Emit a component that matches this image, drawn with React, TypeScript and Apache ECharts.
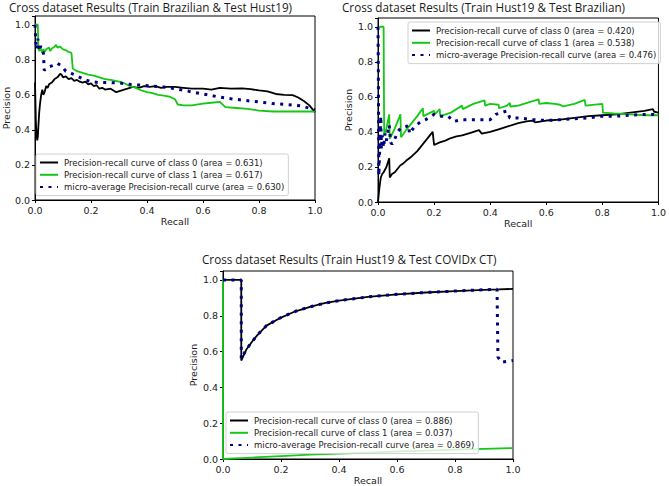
import React, { useEffect, useRef } from 'react';
import * as echarts from 'echarts';

// ---------- Data ----------
const titles = [
  'Cross dataset Results (Train Brazilian & Test Hust19)',
  'Cross dataset Results (Train Hust19 & Test Brazilian)',
  'Cross dataset Results (Train Hust19 & Test COVIDx CT)',
];
const axisTicks = [0, 0.2, 0.4, 0.6, 0.8, 1.0];

const names1 = [
  'Precision-recall curve of class 0 (area = 0.631)',
  'Precision-recall curve of class 1 (area = 0.617)',
  'micro-average Precision-recall curve (area = 0.630)',
];
const names2 = [
  'Precision-recall curve of class 0 (area = 0.420)',
  'Precision-recall curve of class 1 (area = 0.538)',
  'micro-average Precision-recall curve (area = 0.476)',
];
const names3 = [
  'Precision-recall curve of class 0 (area = 0.886)',
  'Precision-recall curve of class 1 (area = 0.037)',
  'micro-average Precision-recall curve (area = 0.869)',
];

// Chart 1: Train Brazilian & Test Hust19  [recall, precision]
const c1Class0 = [
  [0, 0.67], [0.003, 0.45], [0.005, 0.38], [0.008, 0.34], [0.01, 0.36], [0.012, 0.42], [0.015, 0.5],
  [0.018, 0.55], [0.022, 0.6], [0.026, 0.63], [0.03, 0.6], [0.035, 0.62], [0.04, 0.65], [0.045, 0.64],
  [0.05, 0.66], [0.06, 0.67], [0.07, 0.69], [0.08, 0.7], [0.09, 0.72], [0.095, 0.715], [0.1, 0.7],
  [0.11, 0.705], [0.12, 0.69], [0.13, 0.695], [0.14, 0.68], [0.15, 0.685], [0.16, 0.675], [0.17, 0.67],
  [0.18, 0.675], [0.19, 0.66], [0.2, 0.665], [0.21, 0.65], [0.22, 0.655], [0.23, 0.635], [0.24, 0.64],
  [0.25, 0.63], [0.27, 0.635], [0.29, 0.615], [0.31, 0.625], [0.33, 0.635], [0.35, 0.645], [0.37, 0.64],
  [0.39, 0.65], [0.41, 0.645], [0.43, 0.65], [0.45, 0.64], [0.47, 0.645], [0.5, 0.645], [0.53, 0.64],
  [0.56, 0.635], [0.6, 0.635], [0.63, 0.63], [0.66, 0.64], [0.7, 0.635], [0.74, 0.637], [0.77, 0.633],
  [0.8, 0.625], [0.83, 0.62], [0.86, 0.605], [0.89, 0.6], [0.92, 0.598], [0.94, 0.585], [0.96, 0.565],
  [0.98, 0.54], [0.99, 0.52], [1.0, 0.5],
];
const c1Class1 = [
  [0, 1.0], [0.01, 1.0], [0.012, 0.87], [0.015, 0.85], [0.02, 0.87], [0.025, 0.84], [0.03, 0.86],
  [0.035, 0.845], [0.04, 0.86], [0.05, 0.87], [0.055, 0.85], [0.06, 0.865], [0.07, 0.875], [0.075, 0.885],
  [0.08, 0.87], [0.09, 0.875], [0.1, 0.86], [0.11, 0.855], [0.12, 0.845], [0.13, 0.84], [0.135, 0.75],
  [0.14, 0.745], [0.15, 0.735], [0.17, 0.725], [0.19, 0.715], [0.21, 0.71], [0.23, 0.7], [0.25, 0.69],
  [0.27, 0.685], [0.3, 0.675], [0.32, 0.665], [0.34, 0.65], [0.36, 0.64], [0.38, 0.625], [0.4, 0.615],
  [0.42, 0.61], [0.44, 0.6], [0.46, 0.595], [0.48, 0.59], [0.5, 0.575], [0.51, 0.545], [0.53, 0.54],
  [0.56, 0.54], [0.6, 0.55], [0.63, 0.555], [0.66, 0.56], [0.68, 0.53], [0.72, 0.525], [0.76, 0.52],
  [0.8, 0.51], [0.85, 0.505], [0.9, 0.505], [0.95, 0.505], [1.0, 0.505],
];
const c1Micro = [
  [0, 1.0], [0.003, 0.9], [0.006, 0.86], [0.01, 0.92], [0.013, 0.88], [0.016, 0.85], [0.02, 0.88],
  [0.025, 0.85], [0.03, 0.84], [0.033, 0.74], [0.04, 0.75], [0.05, 0.76], [0.06, 0.765], [0.07, 0.77],
  [0.08, 0.78], [0.09, 0.77], [0.1, 0.755], [0.11, 0.735], [0.12, 0.73], [0.14, 0.715], [0.16, 0.7],
  [0.18, 0.685], [0.2, 0.675], [0.23, 0.67], [0.26, 0.67], [0.3, 0.668], [0.34, 0.66], [0.38, 0.655],
  [0.42, 0.65], [0.46, 0.645], [0.5, 0.635], [0.55, 0.62], [0.6, 0.605], [0.65, 0.59], [0.7, 0.578],
  [0.75, 0.568], [0.8, 0.56], [0.85, 0.55], [0.9, 0.545], [0.95, 0.537], [1.0, 0.515],
];

// Chart 2: Train Hust19 & Test Brazilian
const c2Class0 = [
  [0, 0], [0.005, 0.08], [0.01, 0.14], [0.015, 0.16], [0.02, 0.17], [0.03, 0.2], [0.04, 0.25],
  [0.042, 0.14], [0.05, 0.16], [0.06, 0.17], [0.07, 0.19], [0.08, 0.21], [0.09, 0.22], [0.1, 0.235],
  [0.12, 0.26], [0.14, 0.29], [0.16, 0.33], [0.18, 0.37], [0.195, 0.4], [0.2, 0.325], [0.22, 0.34],
  [0.24, 0.35], [0.26, 0.365], [0.28, 0.375], [0.3, 0.38], [0.33, 0.395], [0.36, 0.41], [0.37, 0.39],
  [0.4, 0.4], [0.43, 0.415], [0.46, 0.43], [0.5, 0.45], [0.53, 0.46], [0.55, 0.465], [0.56, 0.455],
  [0.6, 0.465], [0.65, 0.47], [0.7, 0.48], [0.75, 0.49], [0.8, 0.495], [0.85, 0.5], [0.9, 0.51],
  [0.95, 0.52], [0.98, 0.53], [0.985, 0.515], [1.0, 0.51],
];
const c2Class1 = [
  [0.005, 1.0], [0.02, 1.0], [0.022, 0.38], [0.03, 0.42], [0.04, 0.5], [0.042, 0.36], [0.06, 0.42],
  [0.08, 0.5], [0.082, 0.37], [0.1, 0.41], [0.12, 0.45], [0.14, 0.49], [0.16, 0.535], [0.162, 0.49],
  [0.2, 0.52], [0.202, 0.5], [0.22, 0.53], [0.222, 0.49], [0.26, 0.51], [0.3, 0.55], [0.302, 0.53],
  [0.34, 0.56], [0.38, 0.58], [0.382, 0.55], [0.4, 0.56], [0.43, 0.555], [0.432, 0.535], [0.46, 0.55],
  [0.47, 0.565], [0.472, 0.545], [0.5, 0.55], [0.54, 0.57], [0.573, 0.585], [0.575, 0.56], [0.6, 0.565],
  [0.63, 0.56], [0.65, 0.555], [0.66, 0.545], [0.7, 0.56], [0.737, 0.583], [0.74, 0.55], [0.8, 0.56],
  [0.802, 0.51], [0.84, 0.505], [0.9, 0.5], [0.95, 0.495], [1.0, 0.495],
];
const c2Micro = [
  [0, 1.0], [0.001, 0.8], [0.002, 0.5], [0.003, 0.15], [0.006, 0.3], [0.01, 0.49], [0.012, 0.3],
  [0.015, 0.38], [0.02, 0.31], [0.025, 0.39], [0.03, 0.35], [0.035, 0.4], [0.04, 0.44], [0.045, 0.34],
  [0.05, 0.33], [0.06, 0.36], [0.07, 0.4], [0.08, 0.42], [0.09, 0.425], [0.1, 0.43], [0.11, 0.44],
  [0.112, 0.39], [0.13, 0.43], [0.15, 0.455], [0.17, 0.47], [0.2, 0.5], [0.22, 0.49], [0.25, 0.49],
  [0.27, 0.46], [0.3, 0.47], [0.35, 0.47], [0.4, 0.47], [0.42, 0.5], [0.46, 0.52], [0.47, 0.48],
  [0.5, 0.48], [0.55, 0.47], [0.6, 0.465], [0.65, 0.47], [0.7, 0.475], [0.75, 0.48], [0.8, 0.49],
  [0.85, 0.49], [0.9, 0.495], [0.95, 0.5], [1.0, 0.5],
];

// Chart 3: Train Hust19 & Test COVIDx CT
const c3Class0 = [
  [0, 1.0], [0.063, 1.0], [0.063, 0.55], [0.08, 0.61], [0.1, 0.655], [0.12, 0.695], [0.15, 0.745],
  [0.2, 0.79], [0.25, 0.825], [0.3, 0.85], [0.35, 0.87], [0.4, 0.885], [0.5, 0.905], [0.6, 0.92],
  [0.7, 0.93], [0.8, 0.938], [0.9, 0.945], [0.95, 0.947], [1.0, 0.95],
];
const c3Class1 = [
  [0, 1.0], [0, 0.0], [0.1, 0.008], [0.2, 0.016], [0.3, 0.024], [0.4, 0.03], [0.5, 0.036],
  [0.6, 0.042], [0.7, 0.047], [0.8, 0.052], [0.9, 0.057], [1.0, 0.061],
];
const c3Micro = [
  [0, 1.0], [0.063, 1.0], [0.063, 0.56], [0.08, 0.61], [0.1, 0.655], [0.12, 0.695], [0.15, 0.745],
  [0.2, 0.79], [0.25, 0.825], [0.3, 0.85], [0.35, 0.87], [0.4, 0.885], [0.5, 0.905], [0.6, 0.92],
  [0.7, 0.93], [0.8, 0.938], [0.9, 0.945], [0.945, 0.948], [0.948, 0.57], [0.96, 0.54], [1.0, 0.55],
];

// ---------- Styling ----------
const BLACK = '#000000';
const GREEN = '#14c814';
const NAVY = '#000080';
const FONT = 'DejaVu Sans';
const grids = [
  { left: 32, top: 16, width: 283, height: 184 },
  { left: 378, top: 18, width: 285, height: 184 },
  { left: 223, top: 271, width: 290, height: 188 },
];
const legendPos = [
  { left: 36, top: 154 },
  { left: 408, top: 22 },
  { left: 226, top: 412 },
];
const titlePos = [
  { left: 9, top: 1 },
  { left: 342, top: 1 },
  { left: 202, top: 253 },
];

export default function App() {
  const ref = useRef<HTMLDivElement>(null);
  useEffect(() => {
    if (!ref.current) return;
    const chart = echarts.init(ref.current, undefined, { renderer: 'svg' });
    const allNames = [names1, names2, names3];
    const allData = [
      [c1Class0, c1Class1, c1Micro],
      [c2Class0, c2Class1, c2Micro],
      [c3Class0, c3Class1, c3Micro],
    ];
    const fmt = (v: number) => {
      const t = axisTicks.find((x) => Math.abs(x - v) < 1e-6);
      return t === undefined ? '' : t.toFixed(1);
    };
    const xAxis: any[] = [];
    const yAxis: any[] = [];
    const series: any[] = [];
    grids.forEach((g, i) => {
      xAxis.push({
        type: 'value', gridIndex: i, min: 0, max: 1, interval: 0.2,
        name: 'Recall', nameLocation: 'middle', nameGap: 16,
        nameTextStyle: { fontFamily: FONT, fontSize: 9.5, color: '#222' },
        axisLine: { show: true, onZero: false, lineStyle: { color: '#000', width: 1 } },
        axisTick: { show: true, length: 3, lineStyle: { color: '#000' } },
        axisLabel: { formatter: fmt, fontFamily: FONT, fontSize: 9.5, color: '#222', margin: 5 },
        splitLine: { show: false },
      });
      yAxis.push({
        type: 'value', gridIndex: i, min: 0, max: 1.05, interval: 0.2,
        name: 'Precision', nameLocation: 'middle', nameGap: 24,
        nameTextStyle: { fontFamily: FONT, fontSize: 9.5, color: '#222' },
        axisLine: { show: true, onZero: false, lineStyle: { color: '#000', width: 1 } },
        axisTick: { show: true, length: 3, lineStyle: { color: '#000' } },
        axisLabel: { formatter: fmt, fontFamily: FONT, fontSize: 9.5, color: '#222', margin: 5 },
        splitLine: { show: false },
      });
      const colors = [BLACK, GREEN, NAVY];
      allData[i].forEach((d, k) => {
        series.push({
          type: 'line', name: allNames[i][k], xAxisIndex: i, yAxisIndex: i,
          data: d, symbol: 'none', showSymbol: false, clip: true,
          lineStyle: k === 2
            ? { color: NAVY, width: 3, type: [3, 5.5], cap: 'butt' }
            : { color: colors[k], width: 1.8 },
          itemStyle: { color: colors[k] },
          z: 2 + k,
        });
      });
    });
    chart.setOption({
      animation: false,
      backgroundColor: '#ffffff',
      title: titles.map((t, i) => ({
        text: t, left: titlePos[i].left, top: titlePos[i].top, padding: 0,
        textStyle: { fontFamily: 'Open Sans', fontSize: 11.7, lineHeight: 12, fontWeight: 'normal', color: '#1a1a1a' },
      })),
      grid: grids.map((g) => ({ ...g, show: true, borderColor: '#000', borderWidth: 1, backgroundColor: 'transparent', containLabel: false })),
      legend: allNames.map((n, i) => ({
        data: n, orient: 'vertical', left: legendPos[i].left, top: legendPos[i].top,
        itemWidth: 18, itemHeight: 9, itemGap: 3.3, padding: [4, 4, 4, 3],
        borderColor: '#d0d0d0', borderWidth: 1, borderRadius: 2,
        backgroundColor: 'rgba(255,255,255,0.8)',
        itemStyle: { opacity: 0 },
        textStyle: { fontFamily: FONT, fontSize: 8.5, color: '#222', padding: [0, 0, 0, 1] },
        selectedMode: false,
      })),
      xAxis, yAxis, series,
    });
    return () => chart.dispose();
  }, []);
  return <div ref={ref} style={{ position: 'fixed', left: 0, top: 0, width: 669, height: 486 }} />;
}
